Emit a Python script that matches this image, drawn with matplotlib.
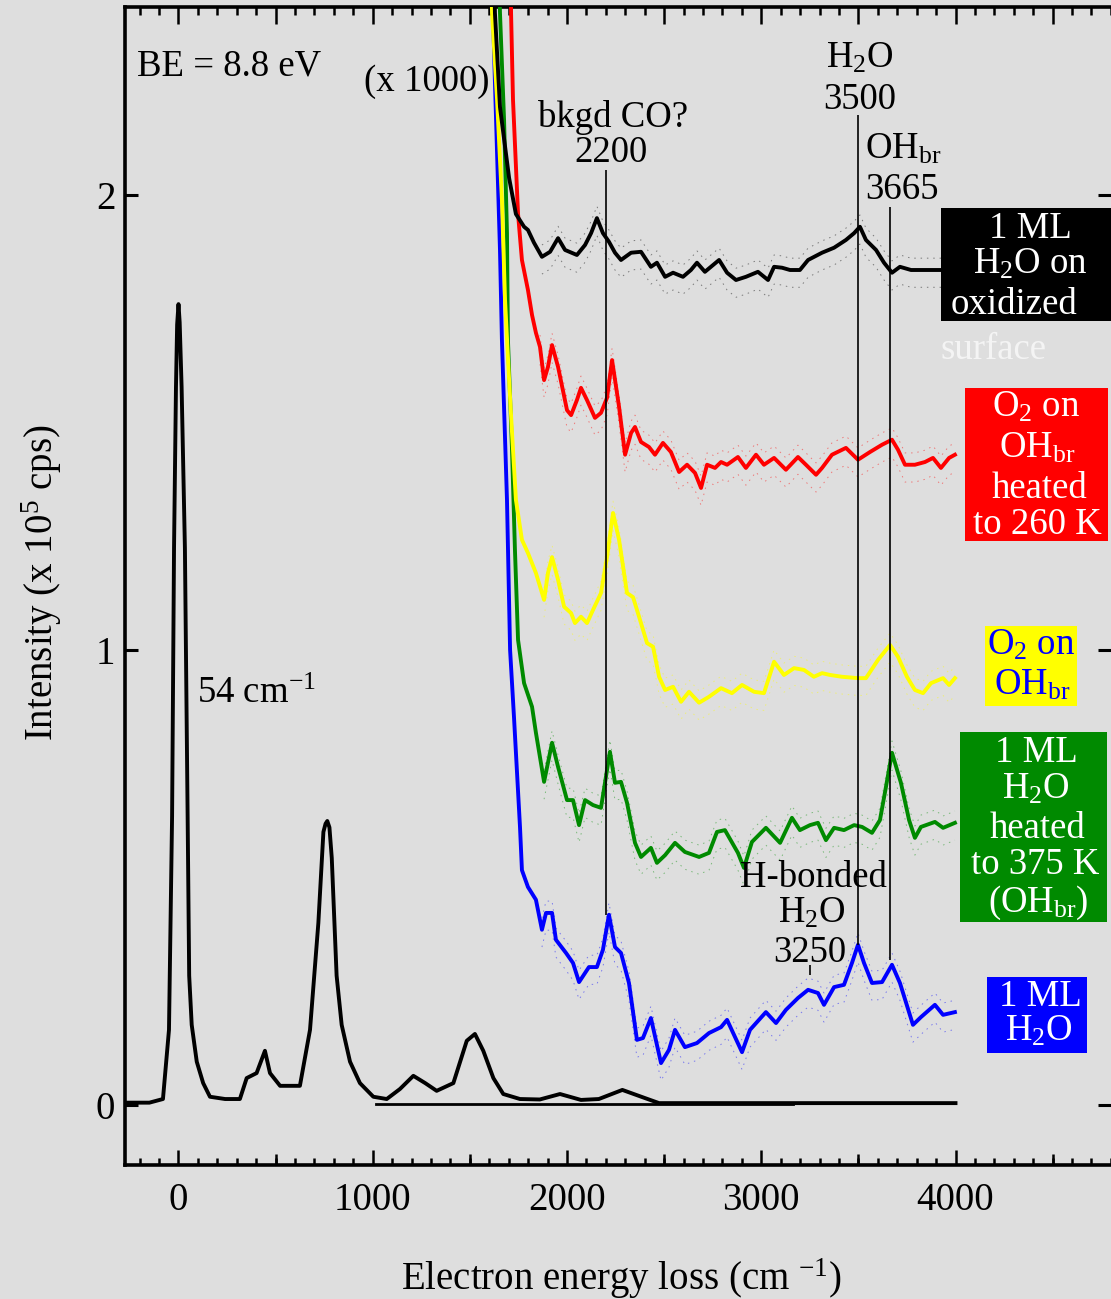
import matplotlib
matplotlib.use("Agg")
import matplotlib.pyplot as plt
from matplotlib.patches import Rectangle
from matplotlib.ticker import FixedLocator, MultipleLocator
import numpy as np

plt.rcParams['font.family'] = ['Liberation Serif', 'DejaVu Serif']
plt.rcParams['mathtext.fontset'] = 'custom'
plt.rcParams['mathtext.rm'] = 'Liberation Serif'
plt.rcParams['mathtext.it'] = 'Liberation Serif:italic'
plt.rcParams['mathtext.default'] = 'rm'

## DATA ###
# full spectrum at x1 (cm-1, 1e5 cps)
loss_main = [-270, -150, -80, -49, -33, -23, -13, -7, 0, 6, 16, 33, 47, 55, 68, 94, 127, 162,
             240, 316, 351, 402, 445, 471, 523, 625, 677, 720, 746, 757, 766, 777, 789, 814, 840,
             883, 934, 1003, 1072, 1140, 1209, 1270, 1329, 1415, 1484, 1526, 1569, 1621,
             1672, 1758, 1860, 1964, 2072, 2164, 2285, 2402, 2474, 3000, 4000]
int_main = [0.005, 0.005, 0.013, 0.165, 0.635, 1.224, 1.578, 1.715, 1.760, 1.720, 1.578, 1.224, 0.635,
            0.284, 0.176, 0.095, 0.048, 0.018, 0.013, 0.013, 0.059, 0.070, 0.119, 0.070,
            0.042, 0.042, 0.165, 0.400, 0.600, 0.618, 0.624, 0.610, 0.543, 0.284, 0.176, 0.095, 0.048,
            0.018, 0.013, 0.035, 0.064, 0.048, 0.031, 0.048, 0.141, 0.156, 0.119, 0.059,
            0.024, 0.013, 0.012, 0.024, 0.011, 0.013, 0.033, 0.015, 0.004, 0.004, 0.004]
loss_flat = [1015, 3165]
int_flat = [0.003, 0.003]

# x1000 spectra
loss_h2o = [1612, 1619, 1629, 1655, 1665, 1691, 1707, 1727, 1758, 1768,
            1799, 1840, 1871, 1892, 1923, 1943, 1995, 2031, 2062, 2113,
            2154, 2185, 2216, 2247, 2278, 2319, 2360, 2391, 2432, 2484,
            2525, 2556, 2607, 2669, 2731, 2793, 2824, 2901, 2942, 3024,
            3076, 3127, 3189, 3241, 3292, 3323, 3375, 3426, 3467, 3498,
            3529, 3570, 3622, 3673, 3714, 3781, 3822, 3894, 3936, 3997]
int_h2o = [2.50, 2.400, 2.248, 1.879, 1.681, 1.330, 1.000, 0.853, 0.611, 0.516,
           0.479, 0.451, 0.385, 0.422, 0.422, 0.363, 0.334, 0.312, 0.270, 0.303,
           0.303, 0.341, 0.418, 0.347, 0.334, 0.268, 0.143, 0.147, 0.191, 0.092,
           0.121, 0.165, 0.127, 0.136, 0.158, 0.171, 0.187, 0.116, 0.165, 0.204,
           0.180, 0.209, 0.235, 0.253, 0.246, 0.220, 0.259, 0.264, 0.312, 0.352,
           0.312, 0.268, 0.270, 0.308, 0.268, 0.176, 0.193, 0.220, 0.198, 0.204]

loss_375 = [1645, 1655, 1676, 1691, 1696, 1717, 1732, 1748, 1779, 1820,
            1840, 1882, 1923, 1954, 2000, 2031, 2062, 2093, 2134, 2175,
            2221, 2247, 2278, 2309, 2350, 2381, 2432, 2463, 2505, 2556,
            2607, 2680, 2731, 2772, 2813, 2880, 2911, 2952, 3024, 3097,
            3158, 3199, 3251, 3292, 3333, 3375, 3426, 3478, 3519, 3570,
            3611, 3642, 3673, 3719, 3761, 3791, 3822, 3894, 3936, 3997]
int_375 = [2.60, 2.400, 2.165, 1.916, 1.681, 1.440, 1.220, 1.022, 0.927, 0.875,
           0.818, 0.710, 0.796, 0.743, 0.670, 0.670, 0.615, 0.670, 0.659, 0.653,
           0.776, 0.708, 0.710, 0.664, 0.576, 0.545, 0.565, 0.532, 0.549, 0.576,
           0.556, 0.545, 0.554, 0.600, 0.604, 0.554, 0.521, 0.578, 0.609, 0.576,
           0.631, 0.604, 0.615, 0.620, 0.582, 0.609, 0.604, 0.615, 0.611, 0.598,
           0.626, 0.699, 0.774, 0.708, 0.626, 0.587, 0.611, 0.622, 0.609, 0.620]

loss_o2 = [1605, 1614, 1640, 1665, 1681, 1702, 1717, 1737, 1768, 1799,
           1840, 1882, 1902, 1923, 1954, 1985, 2021, 2041, 2072, 2103,
           2134, 2175, 2206, 2237, 2268, 2309, 2340, 2371, 2412, 2443,
           2474, 2505, 2546, 2587, 2628, 2680, 2731, 2793, 2849, 2901,
           2963, 3014, 3066, 3117, 3169, 3220, 3271, 3313, 3354, 3416,
           3498, 3539, 3601, 3663, 3704, 3750, 3791, 3833, 3874, 3936,
           3967, 3997]
int_o2 = [2.60, 2.400, 2.209, 1.989, 1.769, 1.593, 1.477, 1.330, 1.242, 1.213,
          1.169, 1.110, 1.169, 1.204, 1.154, 1.095, 1.081, 1.059, 1.073, 1.059,
          1.088, 1.125, 1.204, 1.301, 1.242, 1.125, 1.116, 1.073, 1.015, 1.007,
          0.941, 0.912, 0.919, 0.886, 0.908, 0.884, 0.897, 0.916, 0.905, 0.923,
          0.908, 0.905, 0.974, 0.945, 0.960, 0.956, 0.941, 0.949, 0.945, 0.941,
          0.938, 0.938, 0.978, 1.011, 0.985, 0.941, 0.912, 0.905, 0.927, 0.938,
          0.923, 0.938]

loss_260 = [1708, 1712, 1722, 1748, 1768, 1799, 1820, 1840, 1861, 1882,
            1902, 1923, 1954, 2000, 2021, 2051, 2072, 2103, 2144, 2175,
            2206, 2232, 2268, 2299, 2330, 2350, 2381, 2422, 2453, 2494,
            2535, 2577, 2618, 2659, 2690, 2721, 2762, 2793, 2824, 2880,
            2921, 2973, 3014, 3066, 3127, 3189, 3230, 3282, 3313, 3364,
            3436, 3498, 3560, 3622, 3673, 3704, 3740, 3791, 3843, 3884,
            3925, 3967, 3997]
int_260 = [2.60, 2.400, 2.209, 1.958, 1.857, 1.791, 1.736, 1.697, 1.666, 1.593,
           1.622, 1.670, 1.622, 1.527, 1.516, 1.549, 1.576, 1.549, 1.510, 1.521,
           1.554, 1.637, 1.534, 1.429, 1.477, 1.490, 1.457, 1.446, 1.429, 1.455,
           1.435, 1.391, 1.407, 1.389, 1.356, 1.407, 1.400, 1.413, 1.407, 1.424,
           1.400, 1.429, 1.407, 1.422, 1.396, 1.424, 1.407, 1.385, 1.400, 1.429,
           1.444, 1.418, 1.435, 1.451, 1.462, 1.440, 1.407, 1.407, 1.413, 1.422,
           1.400, 1.422, 1.429]

loss_oxid = [1620, 1629, 1655, 1702, 1737, 1779, 1799, 1830, 1871, 1913,
             1954, 1990, 2051, 2093, 2124, 2154, 2185, 2216, 2247, 2278,
             2330, 2381, 2432, 2463, 2505, 2546, 2597, 2638, 2669, 2710,
             2783, 2824, 2870, 2921, 2983, 3035, 3066, 3107, 3148, 3199,
             3241, 3313, 3375, 3436, 3478, 3508, 3539, 3591, 3632, 3673,
             3714, 3771, 3833, 3915, 3997]
int_oxid = [2.60, 2.400, 2.193, 2.037, 1.958, 1.930, 1.923, 1.895, 1.864, 1.875,
            1.905, 1.879, 1.868, 1.890, 1.916, 1.949, 1.916, 1.897, 1.873, 1.857,
            1.873, 1.875, 1.842, 1.851, 1.820, 1.829, 1.820, 1.835, 1.851, 1.831,
            1.857, 1.829, 1.813, 1.820, 1.831, 1.813, 1.842, 1.840, 1.835, 1.835,
            1.857, 1.873, 1.884, 1.901, 1.916, 1.930, 1.901, 1.879, 1.851, 1.829,
            1.842, 1.835, 1.835, 1.835, 1.835]

# peak markers: position, top and bottom of each guide line
peak_pos = [2200, 3500, 3665]
peak_top = [2.055, 2.176, 1.974]
peak_bottom = [0.418, 0.352, 0.319]
hbond_pos = 3250
hbond_span = [0.286, 0.308]
#############

W, H = 1111, 1299
BG = '#dedede'
FS = 26.5
FS_AX = 28
GREEN = '#008a00'

fig = plt.figure(figsize=(W / 100, H / 100), dpi=100, facecolor=BG)


def fx(px):
    return px / W


def fy(py):
    return 1 - py / H


def ftext(x, y, s, **kw):
    kw.setdefault('fontsize', FS)
    kw.setdefault('va', 'baseline')
    return fig.text(fx(x), fy(y), s, **kw)


ax = fig.add_axes([fx(125), fy(1165), fx(1111) - fx(125), fy(7) - fy(1165)])
ax.set_facecolor(BG)
ax.set_xlim(-275.4, 4800.5)
ax.set_ylim(-0.132, 2.413)

# spines and ticks
for side in ['top', 'bottom', 'left']:
    ax.spines[side].set_linewidth(2.6)
ax.spines['right'].set_visible(False)

ax.xaxis.set_major_locator(FixedLocator([0, 1000, 2000, 3000, 4000]))
ax.xaxis.set_minor_locator(MultipleLocator(100))
ax.tick_params(axis='x', which='major', direction='in', length=11, width=1.8,
               top=False, labelsize=FS_AX, pad=12)
ax.tick_params(axis='x', which='minor', direction='in', length=5, width=1.8, top=False)
ax.set_yticks([0, 1, 2])
ax.tick_params(axis='y', which='major', direction='in', length=9.5, width=2.2,
               left=True, right=True, labelsize=FS_AX, pad=7)

mid = ax.secondary_xaxis('bottom')
mid.set_xticks([500, 1500, 2500, 3500, 4500])
mid.tick_params(direction='in', length=8, width=1.8, labelbottom=False)
mid.spines['bottom'].set_visible(False)

topax = ax.secondary_xaxis('top')
topax.xaxis.set_major_locator(MultipleLocator(500))
topax.xaxis.set_minor_locator(MultipleLocator(100))
topax.tick_params(which='major', direction='in', length=12, width=1.8, labeltop=False)
topax.tick_params(which='minor', direction='in', length=6, width=1.8)
topax.spines['top'].set_visible(False)

# spectra
ax.plot(loss_flat, int_flat, color='black', lw=2.0, zorder=3)
ax.plot(loss_main, int_main, color='black', lw=2.8, zorder=3, solid_joinstyle='round')

traces = [
    (loss_h2o, int_h2o, 'blue'),
    (loss_375, int_375, GREEN),
    (loss_o2, int_o2, 'yellow'),
    (loss_260, int_260, 'red'),
    (loss_oxid, int_oxid, 'black'),
]
for x, y, c in traces:
    x = np.array(x)
    y = np.array(y)
    flat = x > 1850
    # faint dashed scatter band around each x1000 trace
    for off in (0.026, -0.038):
        ax.plot(x[flat], y[flat] + off, color=c, lw=0.7, dashes=(1.5, 5),
                alpha=0.45, zorder=2)
    ax.plot(x, y, color=c, lw=2.8, zorder=4, solid_joinstyle='round')

# guide lines at the assigned losses
ax.vlines(peak_pos, peak_bottom, peak_top, color='black', lw=1.2, zorder=5)
ax.vlines(hbond_pos, hbond_span[0], hbond_span[1], color='black', lw=1.2, zorder=5)

# annotations
ftext(137, 76, 'BE = 8.8 eV')
ftext(490, 91, '(x 1000)', ha='right')
ftext(613, 127, 'bkgd CO?', ha='center')
ftext(611, 162, '2200', ha='center')
ftext(860, 68, r'H$_2$O', ha='center')
ftext(860, 109, '3500', ha='center')
ftext(865, 159, r'OH$_{br}$', ha='left')
ftext(902, 199, '3665', ha='center')
ftext(813, 887, 'H-bonded', ha='center')
ftext(812, 923, r'H$_2$O', ha='center')
ftext(810, 962, '3250', ha='center')
ftext(197, 703, r'54 cm$^{-1}$', ha='left')

# sample labels
boxes = [
    ((941, 208, 1111, 321), 'black'),
    ((965, 388, 1108, 541), 'red'),
    ((985, 626, 1077, 706), 'yellow'),
    ((960, 732, 1107, 922), GREEN),
    ((987, 977, 1087, 1053), 'blue'),
]
for (x0, y0, x1, y1), c in boxes:
    fig.patches.append(Rectangle((fx(x0), fy(y1)), fx(x1) - fx(x0), fy(y0) - fy(y1),
                                 transform=fig.transFigure, facecolor=c,
                                 edgecolor='none', zorder=5))

label_lines = [
    (1030, 238, '1 ML', 'white'), (1030, 274, r'H$_2$O on', 'white'),
    (1014, 314, 'oxidized', 'white'), (994, 359, 'surface', '#f4f4f4'),
    (1036, 417, r'O$_2$ on', 'white'), (1037, 458, r'OH$_{br}$', 'white'),
    (1039, 498, 'heated', 'white'), (1037, 534, 'to 260 K', 'white'),
    (1031, 655, r'O$_2$ on', 'blue'), (1032, 695, r'OH$_{br}$', 'blue'),
    (1036, 762, '1 ML', 'white'), (1036, 799, r'H$_2$O', 'white'),
    (1038, 838, 'heated', 'white'), (1035, 874, 'to 375 K', 'white'),
    (1038, 912, r'(OH$_{br}$)', 'white'),
    (1040, 1006, '1 ML', 'white'), (1039, 1041, r'H$_2$O', 'white'),
]
for x, y, s, c in label_lines:
    t = ftext(x, y, s, ha='center', color=c)
    t.set_zorder(6)

# axis titles
ftext(621, 1290, r'Electron energy loss (cm $^{-1}$)', ha='center', fontsize=FS_AX)
fig.text(fx(42), fy(583), r'Intensity (x 10$^5$ cps)', fontsize=FS_AX,
         rotation=90, ha='center', va='center')

fig.savefig('out.png', dpi=100, facecolor=BG)
